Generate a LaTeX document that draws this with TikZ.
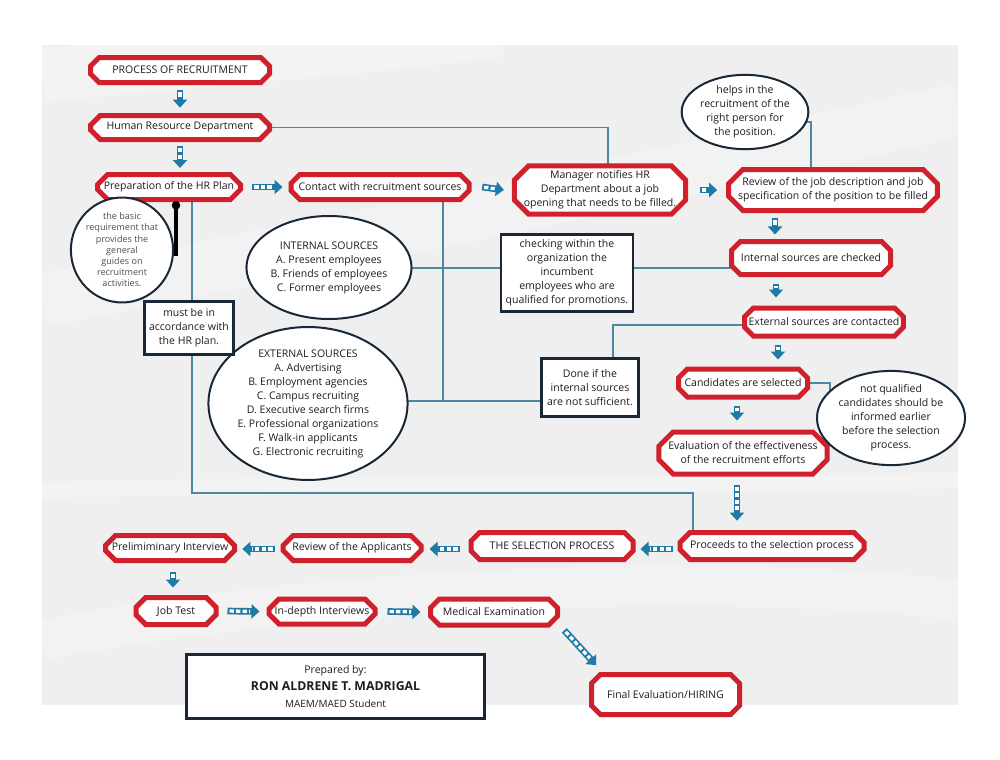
\documentclass[tikz,border=0pt]{standalone}
\usepackage{fontspec}
\setmainfont{Open Sans}
\usetikzlibrary{shapes.misc,shapes.geometric,arrows.meta}
\definecolor{rd}{RGB}{208,32,44}
\definecolor{ab}{RGB}{30,122,166}
\definecolor{ln}{RGB}{80,135,160}
\definecolor{nv}{RGB}{25,40,55}
\definecolor{tx}{RGB}{30,30,30}
\definecolor{tg}{RGB}{80,80,80}
\definecolor{bgc}{RGB}{239,239,239}
\newcommand\fs{\fontsize{7.9}{10.5}\selectfont}
\pgfdeclarelayer{back}
\pgfdeclarelayer{conn}
\pgfsetlayers{back,conn,main}
\begin{document}
\begin{tikzpicture}[x=0.75pt,y=-0.75pt,
  every node/.style={text=tx, font=\fs},
  rn/.style 2 args={chamfered rectangle, chamfered rectangle xsep=7pt, draw=rd, fill=white, line width=3.75pt, inner sep=0pt, minimum width=#1*0.75pt, minimum height=#2*0.75pt, align=center},
  el/.style 2 args={ellipse, draw=nv, line width=1.5pt, fill=white, inner sep=0pt, minimum width=#1*0.75pt, minimum height=#2*0.75pt, align=center},
  bx/.style 2 args={rectangle, draw=nv, line width=1.9pt, fill=white, inner sep=0pt, minimum width=#1*0.75pt, minimum height=#2*0.75pt, align=center},
  cn/.style={draw=ln, line width=0.9pt},
  blk/.style={draw=black, line width=2.4pt},
  sa/.style={draw=ab, line width=5pt, -{Triangle[length=6pt,width=10.5pt]},
    postaction={draw=white, line width=2.5pt, -, dash pattern=on 3.2pt off 1.7pt, shorten <=1.5pt, shorten >=7pt}}
]
\useasboundingbox (0,0) rectangle (1000,760);
\begin{pgfonlayer}{back}
  \fill[white] (0,0) rectangle (1000,760);
  \fill[bgc] (42,45) rectangle (958,705);
  \begin{scope}
    \clip (42,45) rectangle (958,705);
    \draw[white, opacity=0.3, line width=40pt] (42,75) .. controls (200,60) and (350,50) .. (500,30);
    \draw[white, opacity=0.22, line width=40pt] (42,300) .. controls (300,250) and (600,190) .. (958,110);
    \draw[white, opacity=0.3, line width=12pt] (42,490) .. controls (400,482) and (700,488) .. (958,480);
    \draw[white, opacity=0.22, line width=30pt] (42,640) .. controls (300,590) and (700,570) .. (958,600);
  \end{scope}
\end{pgfonlayer}

% red process nodes
\node[rn={179}{25}] (proc) at (180,70) {PROCESS OF RECRUITMENT};
\node[rn={179}{24}] (hrd) at (180,127.5) {Human Resource Department};
\node[rn={143}{25}] (prep) at (169,187) {Preparation of the HR Plan};
\node[rn={178}{25}] (cont) at (380,187) {Contact with recruitment sources};
\node[rn={160}{48}] (mgr) at (600,190) {Manager notifies HR\\Department about a job\\opening that needs to be filled.};
\node[rn={204}{41}] (rev) at (833,190) {Review of the job description and job\\specification of the position to be filled};
\node[rn={159}{33}] (ichk) at (811,258) {Internal sources are checked};
\node[rn={157}{28}] (econ) at (824,322) {External sources are contacted};
\node[rn={129}{28}] (cand) at (743,383) {Candidates are selected};
\node[rn={163}{42}] (eval) at (743,453) {Evaluation of the effectiveness\\of the recruitment efforts};
\node[rn={184}{27}] (proc2) at (772,546) {Proceeds to the selection process};
\node[rn={162}{27}] (sel) at (552,546) {THE SELECTION PROCESS};
\node[rn={138}{25}] (rapp) at (352,548) {Review of the Applicants};
\node[rn={129}{25}] (prel) at (170,548) {Prelimiminary Interview};
\node[rn={80}{27}] (job) at (176,611) {Job Test};
\node[rn={106}{25}] (indp) at (322,611.5) {In-depth Interviews};
\node[rn={127}{26}] (med) at (494,612) {Medical Examination};
\node[rn={148}{40}] (fin) at (665.5,694.5) {Final Evaluation/HIRING};

% ellipses
\node[el={101}{68}] (helps) at (745,112) {helps in the\\recruitment of the\\right person for\\the position.};
\node[el={91}{78}, text=tg, font=\fontsize{6.8}{8.4}\selectfont] (basic) at (122,250) {the basic\\requirement that\\provides the\\general\\guides on\\recruitment\\activities.};
\node[el={126}{103}] (ints) at (329,267.5) {INTERNAL SOURCES\\A. Present employees\\B. Friends of employees\\C. Former employees};
\node[el={166}{151}] (exts) at (308,403.5) {EXTERNAL SOURCES\\A. Advertising\\B. Employment agencies\\C. Campus recruiting\\D. Executive search firms\\E. Professional organizations\\F. Walk-in applicants\\G. Electronic recruiting};
\node[el={110}{85}] (notq) at (891,418) {not qualified\\candidates should be\\informed earlier\\before the selection\\process.};

% boxes
\node[bx={132}{77}] (chk) at (567,273) {checking within the\\organization the\\incumbent\\employees who are\\qualified for promotions.};
\node[bx={97}{58}] (done) at (590,387.5) {Done if the\\internal sources\\are not sufficient.};
\node[bx={89}{53}] (must) at (189,328) {must be in\\accordance with\\the HR plan.};
\node[bx={298}{64}, font=\fontsize{7.9}{13}\selectfont] (prepd) at (335.5,686.5) {Prepared by:\\{\fontsize{9.2}{13}\selectfont\bfseries RON ALDRENE T. MADRIGAL}\\{\fontsize{7.5}{13}\selectfont MAEM/MAED Student}};

% connectors
\coordinate (j1) at (443,401);
\coordinate (j2) at (443,268);
\coordinate (j3) at (830,418);
\coordinate (j4) at (192,493);
\begin{pgfonlayer}{conn}
  \draw[cn] (hrd.center) -| ([xshift=6pt]mgr.center);
  \draw[cn] ([yshift=-7.5pt]helps.center) -| ([xshift=-16.5pt]rev.center);
  \draw[cn] ([xshift=17.25pt]prep.center) -- (j4) -| ([xshift=-59.25pt]proc2.center);
  \draw[cn] ([xshift=47.25pt]cont.center) -- (j1);
  \draw[cn] (exts.center |- j1) -- (done.center |- j1);
  \draw[cn] (ints.center |- j2) -- (ichk.center |- j2);
  \draw[cn] ([yshift=-2.25pt]econ.center) -| ([xshift=17.25pt]done.center);
  \draw[cn] (cand.center) -| (j3) -- (notq.center);
  \draw[blk] ([xshift=5.25pt]prep.center) |- ([yshift=-3pt]basic.center);
\end{pgfonlayer}
\fill[black] ([xshift=5.25pt,yshift=-2.5pt]prep.south) circle[radius=3.2pt];

% striped arrows
\draw[sa] ([yshift=-4pt]proc.south) -- ([yshift=4pt]hrd.north);
\draw[sa] ([yshift=-3pt]hrd.south) -- ([yshift=3pt]hrd.south |- prep.north);
\draw[sa] ([xshift=7pt]prep.east) -- ([xshift=-4.5pt]cont.west);
\draw[sa] ([xshift=8pt]cont.east) -- ([xshift=-6pt]mgr.west);
\draw[sa] ([xshift=9pt]mgr.east) -- ([xshift=-6.75pt]rev.west);
\coordinate (t6) at ([xshift=-43.5pt]rev.south);
\draw[sa] ([yshift=-4pt]t6) -- ([yshift=3.4pt]t6 |- ichk.north);
\coordinate (t7) at ([xshift=-26.25pt]ichk.south);
\draw[sa] ([yshift=-5.5pt]t7) -- ([yshift=6pt]t7 |- econ.north);
\coordinate (t8) at ([xshift=-34.5pt]econ.south);
\draw[sa] ([yshift=-4.5pt]t8) -- ([yshift=5.25pt]t8 |- cand.north);
\coordinate (t9) at ([xshift=-4.5pt]cand.south);
\draw[sa] ([yshift=-4.5pt]t9) -- ([yshift=6.75pt]t9 |- eval.north);
\coordinate (t10) at ([xshift=-4.5pt]eval.south);
\draw[sa] ([yshift=-6pt]t10) -- ([yshift=7pt]t10 |- proc2.north);
\draw[sa] ([xshift=-3.75pt,yshift=-2.25pt]proc2.west) -- ([xshift=3.75pt,yshift=-2.25pt]sel.east);
\draw[sa] ([xshift=-6.75pt,yshift=-2.25pt]sel.west) -- ([xshift=4.5pt,yshift=-0.75pt]rapp.east);
\draw[sa] ([xshift=-4.5pt,yshift=-0.75pt]rapp.west) -- ([xshift=4pt,yshift=-0.75pt]prel.east);
\coordinate (t14) at ([xshift=2.25pt]prel.south);
\draw[sa] ([yshift=-7pt]t14) -- ([yshift=5.6pt]t14 |- job.north);
\draw[sa] ([xshift=6.75pt]job.east) -- ([xshift=-5.25pt]indp.west);
\draw[sa] ([xshift=7.5pt]indp.east) -- ([xshift=-5.6pt]med.west);
\draw[sa] ([xshift=7.1pt,yshift=-6pt]med.south east) -- ([xshift=1.5pt,yshift=9pt]fin.north west);
\end{tikzpicture}
\end{document}
